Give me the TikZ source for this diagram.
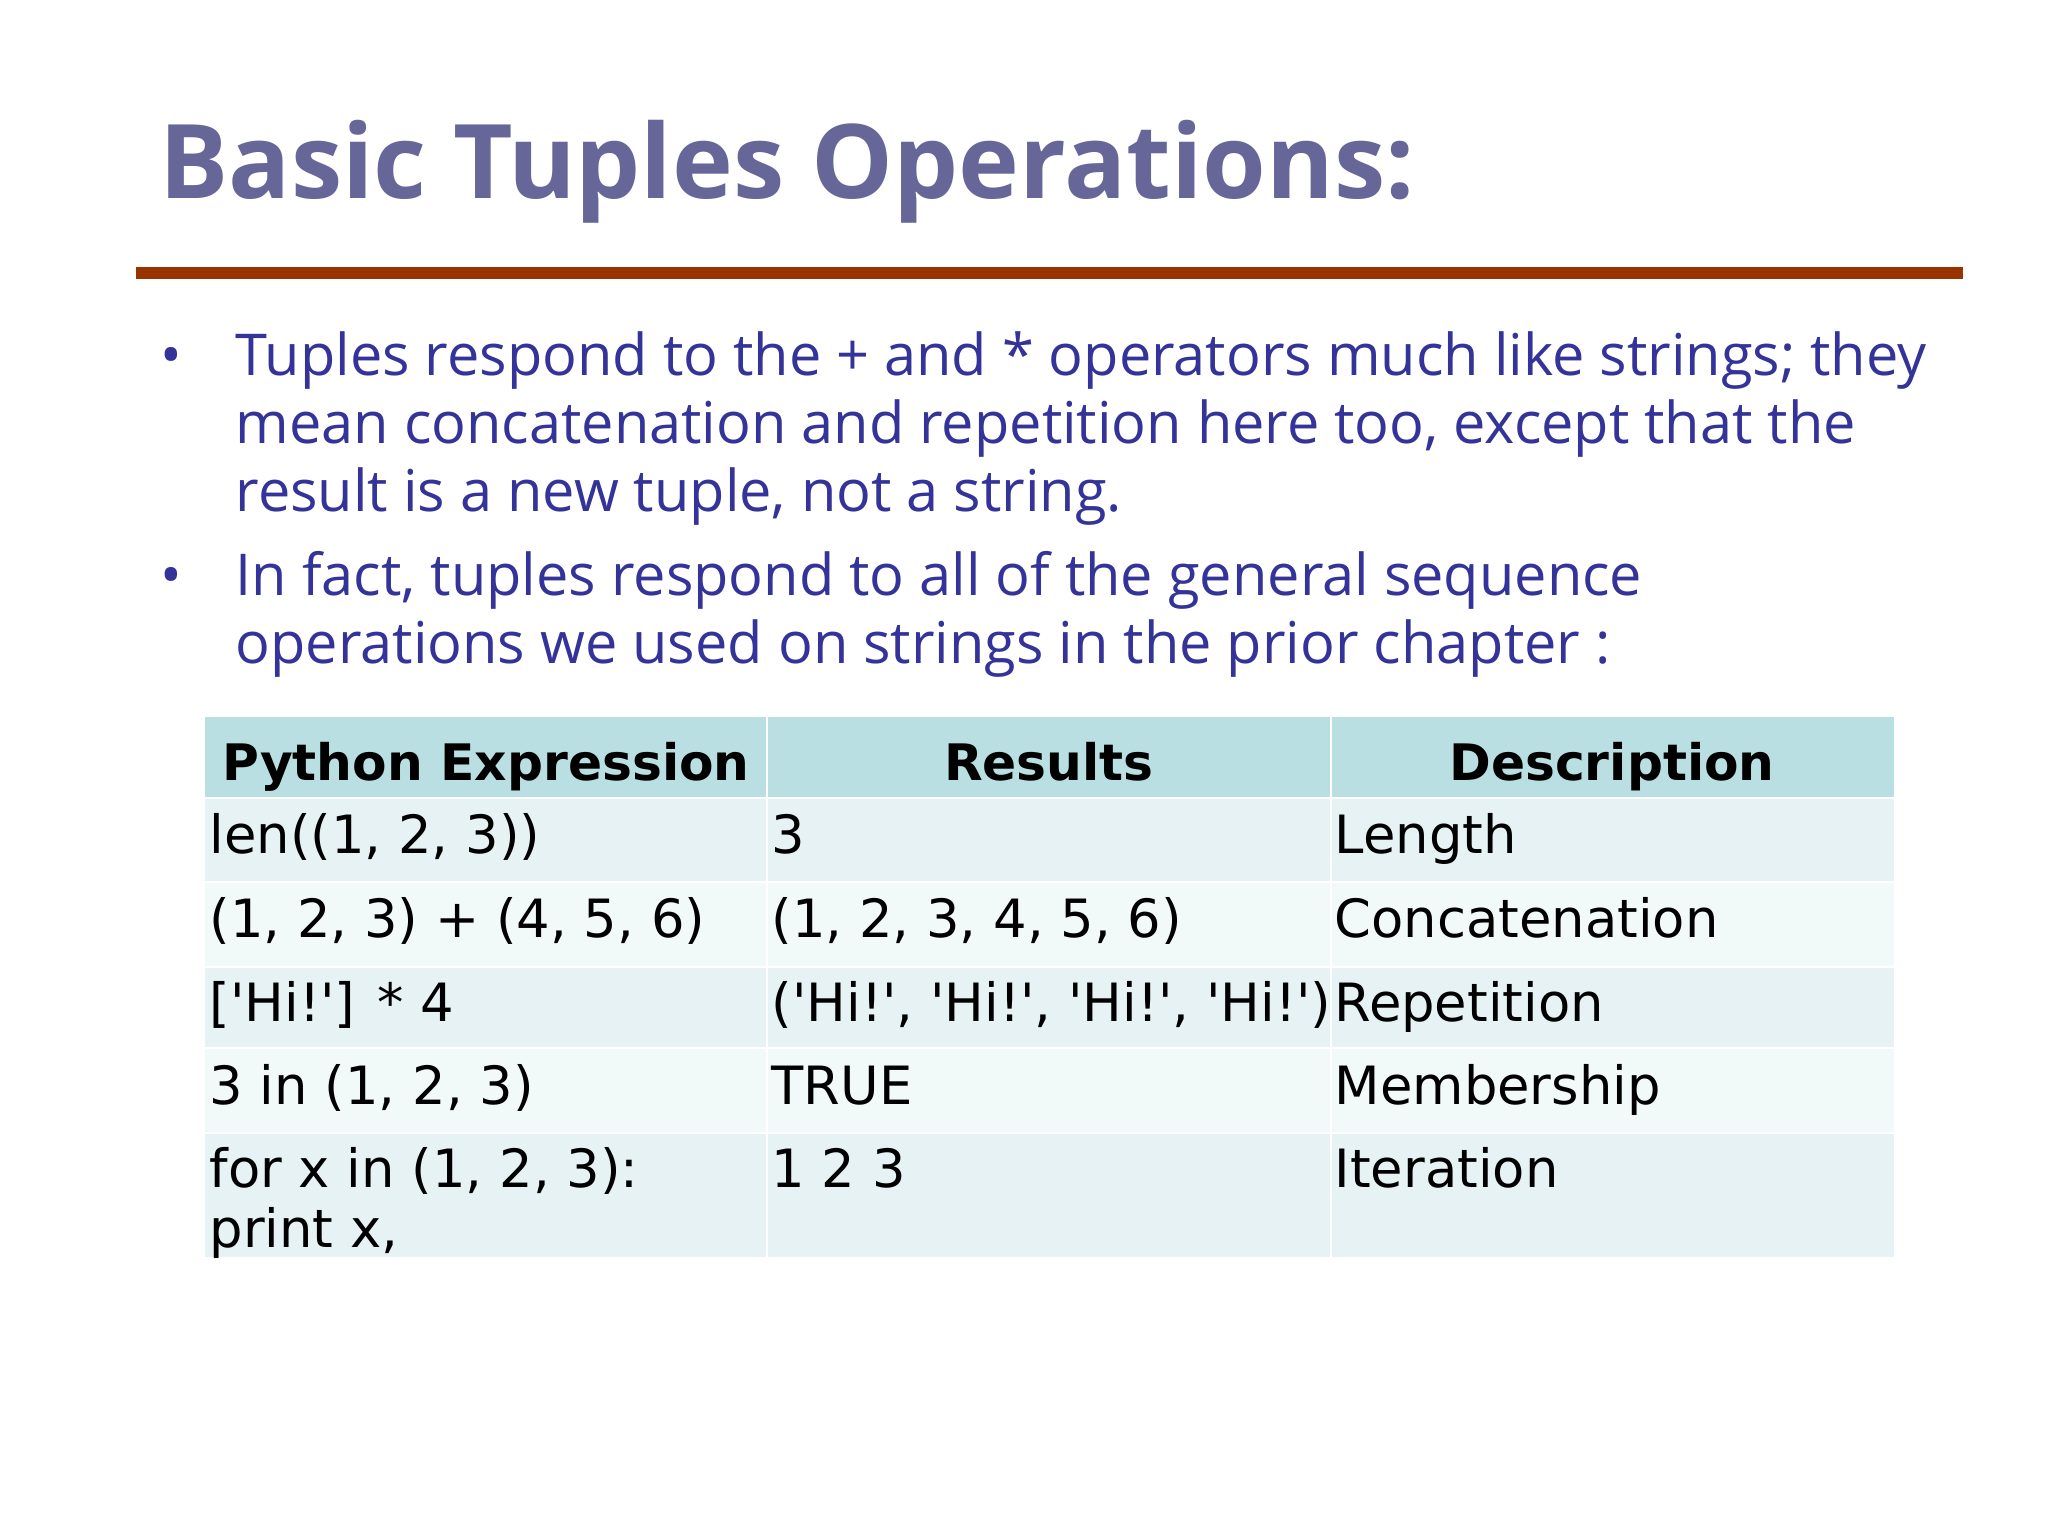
\documentclass[tikz,border=0pt]{standalone}
\usepackage{fontspec}
\setmainfont{Open Sans}
\newfontfamily\tablefont{DejaVu Sans}[Ligatures=TeXOff]
\definecolor{titleblue}{RGB}{102,102,153}
\definecolor{rulebrown}{RGB}{153,51,0}
\definecolor{textblue}{RGB}{51,51,153}
\definecolor{headteal}{RGB}{185,223,226}
\definecolor{rowdark}{RGB}{230,242,243}
\definecolor{rowlight}{RGB}{242,249,249}
\tikzset{
    slidetitle/.style={anchor=base west, inner sep=0pt, text=titleblue, font=\bfseries\fontsize{29.3}{35}\selectfont},
    bullettext/.style={anchor=base west, inner sep=0pt, text=textblue, font=\fontsize{16.4}{19}\selectfont},
    headcell/.style={anchor=base, inner sep=0pt, font=\tablefont\bfseries\fontsize{14.3}{17}\selectfont},
    bodycell/.style={anchor=base west, inner sep=0pt, font=\tablefont\fontsize{15}{17}\selectfont},
    cellsep/.style={draw=white, line width=0.6pt}
}
\begin{document}
\begin{tikzpicture}[x=0.01cm, y=-0.01cm]
                    \fill[white] (0,0) rectangle (2048,1536);
                    \useasboundingbox (0,0) rectangle (2048,1536);
                    % title and rule
                    \node[slidetitle] (title) at (159,198) {Basic Tuples Operations:};
                    \fill[rulebrown] (136,267) rectangle (1963,279);
                    % bullets
                    \node[bullettext] (dotA) at (160,375) {•};
                    \node[bullettext] (dotB) at (160,595) {•};
                    \foreach \txt [count=\i] in {{Tuples respond to the + and * operators much like strings; they},
                            {mean concatenation and repetition here too, except that the},
                            {result is a new tuple, not a string.}} {
                            \node[bullettext] (lineA\i) at (235,307+68*\i) {\txt};
                        }
                    \foreach \txt [count=\i] in {{In fact, tuples respond to all of the general sequence},
                            {operations we used on strings in the prior chapter :}} {
                            \node[bullettext] (lineB\i) at (235,527+68*\i) {\txt};
                        }
                    % table
                    \fill[headteal] (205,717) rectangle (1894,798);
                    \foreach \ya/\yb/\fc in {798/882/rowdark, 882/967/rowlight, 967/1048/rowdark, 1048/1133/rowlight, 1133/1257/rowdark} {
                            \fill[\fc] (205,\ya) rectangle (1894,\yb);
                            \draw[cellsep] (205,\ya) -- (1894,\ya);
                        }
                    \foreach \x in {767, 1331} {
                            \draw[cellsep] (\x,717) -- (\x,1257);
                        }
                    \node[headcell] (hexpr) at (486,780) {Python Expression};
                    \node[headcell] (hres) at (1049,780) {Results};
                    \node[headcell] (hdesc) at (1612,780) {Description};
                    \foreach \y/\expr/\res/\desc [count=\r] in {853/{len((1, 2, 3))}/3/Length,
                            937/{(1, 2, 3) + (4, 5, 6)}/{(1, 2, 3, 4, 5, 6)}/Concatenation,
                            1021/{['Hi!'] * 4}/{('Hi!', 'Hi!', 'Hi!', 'Hi!')}/Repetition,
                            1104/{3 in (1, 2, 3)}/TRUE/Membership,
                            1187/{for x in (1, 2, 3):}/{1 2 3}/Iteration} {
                            \node[bodycell] (expr\r) at (209,\y) {\expr};
                            \node[bodycell] (res\r) at (771,\y) {\res};
                            \node[bodycell] (desc\r) at (1334,\y) {\desc};
                        }
                    \node[bodycell] (expr5b) at (209,1247) {print x,};
                \end{tikzpicture}
\end{document}
